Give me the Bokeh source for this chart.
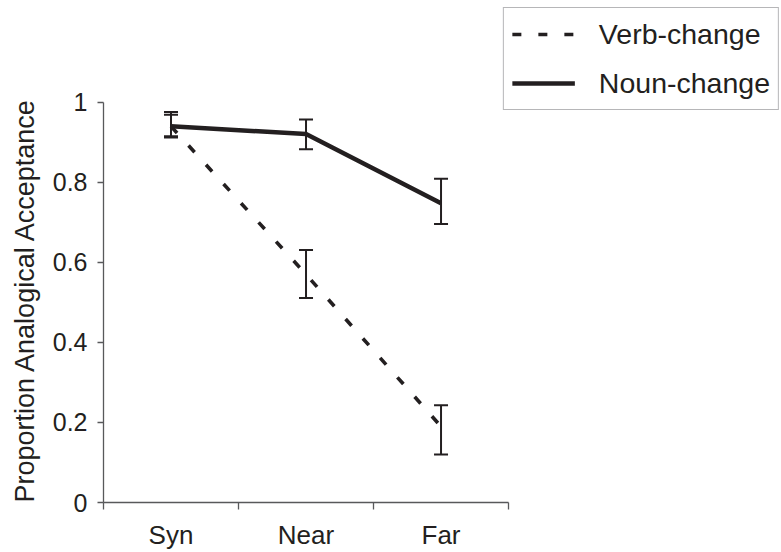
from bokeh.plotting import figure
from bokeh.models import (ColumnDataSource, FixedTicker, Range1d, Legend, LegendItem,
                          Whisker, TeeHead, Title)
from bokeh.embed import file_html
from bokeh.resources import INLINE

# ---- data ----
categories = ["Syn", "Near", "Far"]
verb_mean = [0.94, 0.57, 0.19]
verb_lower = [0.912, 0.511, 0.12]
verb_upper = [0.969, 0.631, 0.243]
noun_mean = [0.94, 0.921, 0.748]
noun_lower = [0.915, 0.883, 0.696]
noun_upper = [0.976, 0.957, 0.809]
y_ticks = [0, 0.2, 0.4, 0.6, 0.8, 1]
y_tick_labels = ["0", "0.2", "0.4", "0.6", "0.8", "1"]
series_names = ["Verb-change", "Noun-change"]
y_title = "Proportion Analogical Acceptance"

INK = "#231f20"
AXIS = "#58595b"
FONT = "Liberation Sans"

xc = [i + 0.5 for i in range(len(categories))]
bounds_x = [float(i) for i in range(len(categories) + 1)]

p = figure(width=779, height=552, output_backend="svg", toolbar_location=None,
           x_range=Range1d(0, 5.007), y_range=Range1d(0, 1.237),
           min_border_left=103, min_border_right=0, min_border_top=7, min_border_bottom=49)
p.outline_line_color = None
p.xgrid.visible = False
p.ygrid.visible = False
p.background_fill_color = "white"
p.border_fill_color = "white"

verb_src = ColumnDataSource(dict(x=xc, y=verb_mean, lo=verb_lower, hi=verb_upper))
noun_src = ColumnDataSource(dict(x=xc, y=noun_mean, lo=noun_lower, hi=noun_upper))

r_verb = p.line("x", "y", source=verb_src, line_color=INK, line_width=3.6, line_dash="9 17")
r_noun = p.line("x", "y", source=noun_src, line_color=INK, line_width=4.5)

for src in (verb_src, noun_src):
    w = Whisker(source=src, base="x", lower="lo", upper="hi", line_color=INK, line_width=2,
                upper_head=TeeHead(size=14, line_color=INK, line_width=2),
                lower_head=TeeHead(size=14, line_color=INK, line_width=2))
    p.add_layout(w)

# x axis
xa = p.xaxis[0]
xa.ticker = FixedTicker(ticks=xc, minor_ticks=bounds_x)
xa.major_label_overrides = {x: c for x, c in zip(xc, categories)}
xa.bounds = (bounds_x[0], bounds_x[-1])
xa.major_tick_out = 0
xa.major_tick_in = 0
xa.minor_tick_out = 7
xa.minor_tick_in = 0
xa.minor_tick_line_color = AXIS
xa.axis_line_color = AXIS
xa.axis_line_width = 1.3
xa.minor_tick_line_width = 1.3
xa.major_label_text_font = FONT
xa.major_label_text_font_size = "26px"
xa.major_label_text_color = INK
xa.major_label_standoff = 10

# y axis
ya = p.yaxis[0]
ya.ticker = FixedTicker(ticks=y_ticks, minor_ticks=[])
ya.major_label_overrides = {t: s for t, s in zip(y_ticks, y_tick_labels)}
ya.bounds = (0, 1)
ya.major_tick_out = 6
ya.major_tick_in = 0
ya.major_tick_line_color = AXIS
ya.major_tick_line_width = 1.3
ya.axis_line_color = AXIS
ya.axis_line_width = 1.3
ya.major_label_text_font = FONT
ya.major_label_text_font_size = "25px"
ya.major_label_text_color = INK
ya.major_label_standoff = 10

p.add_layout(Title(text=y_title, align="left", standoff=15, vertical_align="top",
                   text_font=FONT, text_font_size="27px", text_font_style="normal",
                   text_color=INK), "left")

legend = Legend(items=[LegendItem(label=series_names[0], renderers=[r_verb]),
                       LegendItem(label=series_names[1], renderers=[r_noun])],
                location="top_right", margin=0, padding=8, spacing=13,
                glyph_width=63, glyph_height=36, label_height=36, label_standoff=24,
                label_text_font=FONT, label_text_font_size="28.5px", label_text_color=INK,
                border_line_color="#6d6e71", border_line_width=1,
                background_fill_color="white", background_fill_alpha=1)
p.add_layout(legend)

open("out.html", "w").write(file_html(p, INLINE))
